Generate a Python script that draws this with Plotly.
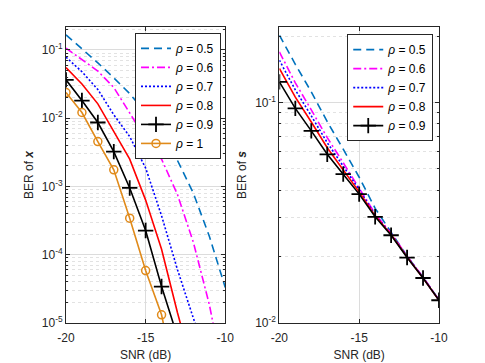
import plotly.graph_objects as go

snr = [-20, -19, -18, -17, -16, -15, -14, -13, -12, -11, -10]

# BER of x (left panel)
ber_x_05 = [0.166, 0.1047, 0.0646, 0.0389, 0.0229, 0.0120, 0.0055, 0.0024, 7.94e-4, 1.86e-4, 3.31e-5]
ber_x_06 = [0.1059, 0.0724, 0.0490, 0.0282, 0.0120, 0.00501, 0.00251, 7.59e-4, 1.51e-4, 1.86e-5, 1.26e-6]
ber_x_07 = [0.0782, 0.0479, 0.0263, 0.0112, 0.00537, 0.00186, 3.72e-4, 6.03e-5, 1.17e-5, 2.5e-6]
ber_x_08 = [0.0551, 0.0316, 0.0162, 0.00631, 0.00251, 6.31e-4, 1.20e-4, 1.41e-5, 2.0e-6]
ber_x_09 = [0.0364, 0.0181, 0.00863, 0.00324, 9.5e-4, 2.26e-4, 3.42e-5, 6.3e-6]
ber_x_10 = [0.0237, 0.0121, 0.00454, 0.00175, 3.43e-4, 5.87e-5, 1.32e-5, 1.0e-6]

# BER of s (right panel)
ber_s_05 = [0.2018, 0.1489, 0.1117, 0.0818, 0.0614, 0.0458, 0.0331, 0.0258, 0.0201, 0.01614, 0.01272]
ber_s_06 = [0.1694, 0.1227, 0.0925, 0.0692, 0.0533, 0.0411, 0.0313, 0.0255, 0.0201, 0.01614, 0.01272]
ber_s_07 = [0.1554, 0.1140, 0.0869, 0.0657, 0.0514, 0.0402, 0.0309, 0.0253, 0.0200, 0.01605, 0.01268]
ber_s_08 = [0.1426, 0.1057, 0.0815, 0.0623, 0.0494, 0.0393, 0.0306, 0.0252, 0.0199, 0.0160, 0.01268]
ber_s_09 = [0.1239, 0.0940, 0.0743, 0.0582, 0.0473, 0.0384, 0.0303, 0.0250, 0.0198, 0.0160, 0.01268]

rho_labels = ["0.5", "0.6", "0.7", "0.8", "0.9", "1"]

styles = [
    dict(color="#0072BD", dash="8px,5px"),
    dict(color="#FF00FF", dash="8px,3px,2px,3px"),
    dict(color="#0000FF", dash="2px,2px"),
    dict(color="#FF0000", dash="solid"),
    dict(color="#000000", dash="solid"),
    dict(color="#E08A1A", dash="solid"),
]
markers = [None, None, None, None,
           dict(symbol="cross-thin", size=11, line=dict(width=1.8, color="#000000")),
           dict(symbol="circle-open", size=8, line=dict(width=1.5, color="#E08A1A"), color="#E08A1A")]

fig = go.Figure()

left = [ber_x_05, ber_x_06, ber_x_07, ber_x_08, ber_x_09, ber_x_10]
for i, ys in enumerate(left):
    mk = markers[i]
    fig.add_trace(go.Scatter(
        x=snr[:len(ys)], y=ys, name="<i>ρ</i> = " + rho_labels[i],
        mode="lines+markers" if mk else "lines",
        line=dict(color=styles[i]["color"], dash=styles[i]["dash"], width=1.6),
        marker=mk, xaxis="x", yaxis="y", legend="legend",
    ))

right = [ber_s_05, ber_s_06, ber_s_07, ber_s_08, ber_s_09]
for i, ys in enumerate(right):
    mk = markers[i]
    fig.add_trace(go.Scatter(
        x=snr, y=ys, name="<i>ρ</i> = " + rho_labels[i],
        mode="lines+markers" if mk else "lines",
        line=dict(color=styles[i]["color"], dash=styles[i]["dash"], width=1.6),
        marker=mk, xaxis="x2", yaxis="y2", legend="legend2",
    ))

axcol = "#262626"
gridcol = "#DCDCDC"
font = "Liberation Sans, Arial, sans-serif"

def xax(domain, anchor):
    return dict(
        domain=domain, anchor=anchor, range=[-20, -10], automargin=False,
        tickvals=[-20, -15, -10], ticktext=["-20", "-15", "-10"],
        showline=True, linecolor=axcol, linewidth=1, mirror="ticks",
        ticks="inside", ticklen=4, tickcolor=axcol, ticklabelstandoff=4,
        showgrid=True, gridcolor=gridcol, gridwidth=1, zeroline=False,
        tickfont=dict(size=12, color=axcol),
        title=dict(text="SNR (dB)", font=dict(size=12, color=axcol), standoff=6),
    )

def minor_vals(lo, hi):
    vals = []
    for e in range(lo, hi):
        for m in range(2, 10):
            vals.append(m * 10 ** e)
    return vals

def yax(domain, anchor, rng, decades, label):
    return dict(
        domain=domain, anchor=anchor, type="log", range=rng, automargin=False,
        tickvals=[10 ** d for d in decades],
        ticktext=["10<sup>%d</sup>" % d for d in decades],
        showline=True, linecolor=axcol, linewidth=1, mirror="ticks",
        ticks="inside", ticklen=4, tickcolor=axcol,
        showgrid=True, gridcolor=gridcol, gridwidth=1, zeroline=False,
        minor=dict(tickvals=minor_vals(decades[0], decades[-1] + 1), ticks="inside",
                   ticklen=2, tickcolor=axcol, showgrid=True,
                   gridcolor="#E2E2E2", griddash="dot", gridwidth=1),
        tickfont=dict(size=12, color=axcol),
        title=dict(text=label, font=dict(size=12, color=axcol), standoff=5),
    )

leg_style = dict(
    bgcolor="white", bordercolor=axcol, borderwidth=1,
    font=dict(size=12, color="#000000", family=font),
    xanchor="left", yanchor="top", tracegroupgap=0,
    itemwidth=30,
)

fig.update_layout(
    width=485, height=363,
    margin=dict(l=66, r=46, t=27, b=40),
    paper_bgcolor="white", plot_bgcolor="white",
    font=dict(family=font, color=axcol),
    xaxis=xax([0.0, 0.427], "y"),
    yaxis=yax([0, 1], "x", [-5, -0.665], [-5, -4, -3, -2, -1], "BER of <b><i>x</i></b>"),
    xaxis2=xax([0.572, 1.0], "y2"),
    yaxis2=yax([0, 1], "x2", [-2, -0.658], [-2, -1], "BER of <b><i>s</i></b>"),
    legend=dict(x=0.185, y=0.98, **leg_style),
    legend2=dict(x=0.754, y=0.976, **leg_style),
    showlegend=True,
)

fig.write_html("out.html", config={"displayModeBar": False},
               post_script="document.body.style.margin='0';")
